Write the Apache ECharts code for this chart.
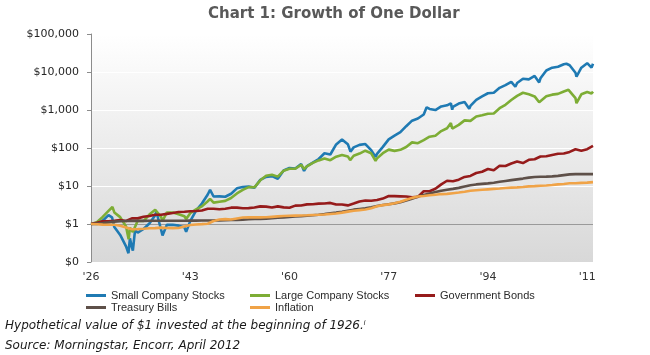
<!DOCTYPE html>
<html>
<head>
<meta charset="utf-8">
<script src="https://cdn.jsdelivr.net/npm/echarts@6/dist/echarts.min.js"></script>
<style>
  html, body { margin: 0; padding: 0; background: #ffffff; }
  #chart { width: 650px; height: 355px; }
</style>
</head>
<body>
<div id="chart"></div>
<script>
// ---------- DATA ----------
const titleText = 'Chart 1: Growth of One Dollar';
const seriesNames = ['Small Company Stocks', 'Large Company Stocks', 'Government Bonds', 'Treasury Bills', 'Inflation'];
const xTickLabels = ["'26", "'43", "'60", "'77", "'94", "'11"];
const yTickLabels = ['$0', '$1', '$10', '$100', '$1,000', '$10,000', '$100,000'];

// Year-end index values, from end of 1925 (= $1) through end of 2011
const firstYearEnd = 1925;
const smallStocks = [1, 1.00, 1.22, 1.71, 0.83, 0.515, 0.259, 0.245, 0.594, 0.738, 1.03,
  1.71, 0.716, 0.951, 0.954, 0.905, 0.824, 1.19, 2.24, 3.45, 5.98,
  5.29, 5.34, 5.22, 6.25, 8.68, 9.36, 9.64, 9.01, 14.5, 17.4,
  18.2, 15.5, 25.6, 29.8, 28.8, 38.1, 33.5, 41.5, 51.2, 72.6,
  67.5, 124, 168, 126, 104, 121, 127, 87.7, 70.2, 107,
  169, 212, 261, 375, 524, 597, 764, 1067, 996, 1242,
  1327, 1203, 1479, 1629, 1278, 1848, 2280, 2758, 2844, 3824,
  4498, 5523, 5119, 6644, 6406, 7864, 6820, 10960, 12976, 13714,
  15931, 15100, 9555, 13004, 17069, 16513];
const largeStocks = [1, 1.116, 1.535, 2.204, 2.018, 1.516, 0.859, 0.789, 1.214, 1.197, 1.767,
  2.367, 1.538, 2.016, 2.008, 1.812, 1.602, 1.927, 2.427, 2.906, 3.965,
  3.645, 3.853, 4.065, 4.829, 6.36, 7.888, 9.336, 9.244, 14.11, 18.56,
  19.78, 17.65, 25.3, 28.32, 28.46, 36.11, 32.96, 40.47, 47.14, 53.01,
  47.67, 59.1, 65.64, 60.06, 62.47, 71.41, 84.96, 72.5, 53.31, 73.14,
  90.58, 84.08, 89.59, 106.1, 140.5, 133.6, 162.2, 198.7, 211.2, 279.1,
  330.7, 348.0, 405.7, 533.6, 517.0, 674.6, 726.0, 799.0, 809.6, 1114,
  1371, 1828, 2351, 2846, 2587, 2279, 1775, 2285, 2533, 2658,
  3077, 3246, 2045, 2587, 2976, 3045];
const govBonds = [1, 1.078, 1.174, 1.175, 1.215, 1.272, 1.204, 1.407, 1.406, 1.547, 1.624,
  1.747, 1.751, 1.847, 1.957, 2.076, 2.096, 2.163, 2.208, 2.27, 2.514,
  2.511, 2.445, 2.529, 2.692, 2.693, 2.587, 2.617, 2.713, 2.908, 2.87,
  2.71, 2.912, 2.734, 2.673, 3.041, 3.071, 3.282, 3.322, 3.438, 3.463,
  3.589, 3.26, 3.251, 3.086, 3.46, 3.918, 4.141, 4.095, 4.273, 4.666,
  5.447, 5.41, 5.346, 5.28, 5.071, 5.166, 7.251, 7.298, 8.428, 11.04,
  13.75, 13.37, 14.67, 17.32, 18.39, 21.94, 23.71, 28.03, 25.86, 34.04,
  33.73, 39.07, 44.17, 40.22, 48.86, 50.66, 59.7, 60.57, 65.72, 70.85,
  71.7, 78.78, 92.5, 84.4, 92.9, 113];
const treasuryBills = [1, 1.033, 1.065, 1.103, 1.155, 1.183, 1.196, 1.207, 1.21, 1.212, 1.214,
  1.216, 1.22, 1.22, 1.22, 1.22, 1.221, 1.225, 1.229, 1.233, 1.237,
  1.242, 1.248, 1.258, 1.272, 1.287, 1.306, 1.328, 1.352, 1.364, 1.385,
  1.419, 1.464, 1.486, 1.53, 1.571, 1.604, 1.648, 1.7, 1.76, 1.829,
  1.916, 1.997, 2.101, 2.239, 2.385, 2.49, 2.585, 2.764, 2.986, 3.159,
  3.319, 3.489, 3.74, 4.128, 4.592, 5.267, 5.822, 6.335, 6.959, 7.496,
  7.958, 8.393, 8.926, 9.673, 10.43, 11.01, 11.4, 11.74, 12.21, 12.9,
  13.56, 14.26, 14.97, 15.67, 16.58, 17.23, 17.5, 17.68, 17.89, 18.43,
  19.3, 20.21, 20.51, 20.54, 20.56, 20.57];
const inflation = [1, 0.985, 0.965, 0.955, 0.957, 0.899, 0.814, 0.73, 0.734, 0.749, 0.771,
  0.78, 0.804, 0.782, 0.778, 0.786, 0.862, 0.942, 0.972, 0.992, 1.014,
  1.2, 1.309, 1.344, 1.318, 1.396, 1.477, 1.49, 1.5, 1.493, 1.499,
  1.543, 1.589, 1.618, 1.642, 1.666, 1.677, 1.699, 1.727, 1.747, 1.78,
  1.841, 1.896, 1.996, 2.12, 2.242, 2.318, 2.398, 2.608, 2.933, 3.135,
  3.288, 3.512, 3.827, 4.327, 4.868, 5.284, 5.48, 5.693, 5.912, 6.13,
  6.2, 6.475, 6.762, 7.069, 7.502, 7.727, 7.95, 8.164, 8.382, 8.595,
  8.884, 9.036, 9.182, 9.426, 9.75, 9.898, 10.13, 10.33, 10.67, 11.03,
  11.3, 11.77, 11.78, 12.1, 12.28, 12.65];

// Intra-year turning points for the stock series (decimal calendar time, value)
const smallTurnTimes  = [1929.6, 1932.42, 1932.67, 1933.17, 1933.55, 1937.2, 1938.25, 1942.3, 1946.4, 1962.5, 1970.45, 1974.75, 1983.5, 1987.65, 1987.88, 1990.8, 1998.7, 2002.78, 2007.45, 2009.17, 2011.3, 2011.75];
const smallTurnValues = [1.50, 0.17, 0.42, 0.20, 0.70, 2.10, 0.50, 0.62, 7.9, 25, 80, 58, 1180, 1500, 1020, 1080, 4100, 5300, 16500, 7500, 18000, 13000];
const largeTurnTimes  = [1929.67, 1932.45, 1932.67, 1933.17, 1937.17, 1938.25, 1942.3, 1946.4, 1962.5, 1970.4, 1974.75, 1987.65, 1987.88, 2000.2, 2002.78, 2007.8, 2009.17, 2011.3, 2011.75];
const largeTurnValues = [2.8, 0.40, 0.80, 0.62, 2.6, 1.20, 1.35, 4.6, 28, 48, 46, 455, 325, 3000, 1600, 3400, 1510, 3290, 2720];

const axisCrossValue = 1; // horizontal axis crosses the value axis at $1
const seriesColors = ['#1f7ab3', '#7dad35', '#961b1b', '#5e5049', '#f0a347'];

// ---------- BUILD ----------
function buildData(annual, turnTimes, turnValues) {
  const pts = annual.map((v, i) => [(firstYearEnd + i) - 1925, v]);
  if (turnTimes) {
    turnTimes.forEach((t, i) => pts.push([t - 1926, turnValues[i]]));
  }
  pts.sort((a, b) => a[0] - b[0]);
  return pts;
}
const allData = [
  buildData(smallStocks, smallTurnTimes, smallTurnValues),
  buildData(largeStocks, largeTurnTimes, largeTurnValues),
  buildData(govBonds),
  buildData(treasuryBills),
  buildData(inflation)
];

const tickStep = 17;
function xLabel(v) {
  const idx = Math.round(v / tickStep);
  if (Math.abs(v - idx * tickStep) > 0.01) return '';
  return xTickLabels[idx] || '';
}
function yLabel(v) {
  const idx = Math.round(Math.log10(v)) + 1;
  return yTickLabels[idx] || '';
}

const chart = echarts.init(document.getElementById('chart'), null, { renderer: 'canvas' });
const legendPos = [[86, 290], [250, 290], [415, 290], [86, 302], [250, 302]];

const lineSeries = seriesNames.map((n, i) => ({
  name: n, type: 'line', data: allData[i], z: 3,
  showSymbol: false, symbol: 'none', smooth: false,
  itemStyle: { color: seriesColors[i] },
  lineStyle: { width: 2.6, color: seriesColors[i] }
}));
lineSeries.push({
  name: 'axis-cross', type: 'line', data: [], z: 1, silent: true,
  itemStyle: { color: '#9a9a9a' },
  markLine: {
    silent: true, symbol: 'none', label: { show: false }, z: 1,
    lineStyle: { color: '#9a9a9a', width: 1, type: 'solid' },
    data: [{ yAxis: axisCrossValue }]
  }
});

const option = {
  animation: false,
  backgroundColor: '#ffffff',
  color: seriesColors,
  title: {
    text: titleText, left: 208, top: 7, padding: 0,
    textStyle: { fontFamily: 'DejaVu Sans', fontWeight: 'bold', fontSize: 15, color: '#595959' }
  },
  grid: {
    left: 91, right: 57, top: 34, bottom: 93,
    show: true, borderWidth: 0,
    backgroundColor: { type: 'linear', x: 0, y: 0, x2: 0, y2: 1,
      colorStops: [{ offset: 0, color: '#ffffff' }, { offset: 1, color: '#d8d8d8' }] }
  },
  legend: seriesNames.map((n, i) => ({
    data: [n], left: legendPos[i][0], top: legendPos[i][1], padding: 0,
    icon: 'rect', itemWidth: 20, itemHeight: 3, itemGap: 0,
    textStyle: { fontFamily: 'Liberation Sans', fontSize: 11, color: '#2b2b2b' }
  })),
  xAxis: {
    type: 'value', min: 0, max: 86, interval: tickStep,
    axisLine: { show: false }, axisTick: { show: false }, splitLine: { show: false },
    axisLabel: { formatter: xLabel, margin: 10, fontFamily: 'DejaVu Sans', fontSize: 11, color: '#333333',
      customValues: [0, 17, 34, 51, 68, 85] }
  },
  yAxis: {
    type: 'log', logBase: 10, min: 0.1, max: 100000, splitNumber: 6,
    axisLine: { show: true, lineStyle: { color: '#8c8c8c' } },
    axisTick: { show: true, length: 4, lineStyle: { color: '#8c8c8c' } },
    splitLine: { show: true, lineStyle: { color: '#ffffff', width: 1 } },
    axisLabel: { formatter: yLabel, margin: 12, fontFamily: 'DejaVu Sans', fontSize: 11, color: '#262626' }
  },
  graphic: [{
    type: 'text', left: 5, top: 320,
    style: {
      text: 'Hypothetical value of $1 invested at the beginning of 1926.{sup|i}',
      font: 'italic 12px "DejaVu Sans"', fill: '#1a1a1a',
      rich: { sup: { fontSize: 7, fontStyle: 'italic', verticalAlign: 'top', fill: '#1a1a1a' } }
    }
  }, {
    type: 'text', left: 5, top: 340,
    style: { text: 'Source: Morningstar, Encorr, April 2012', font: 'italic 12px "DejaVu Sans"', fill: '#1a1a1a' }
  }],
  series: lineSeries
};
chart.setOption(option);
</script>
</body>
</html>
